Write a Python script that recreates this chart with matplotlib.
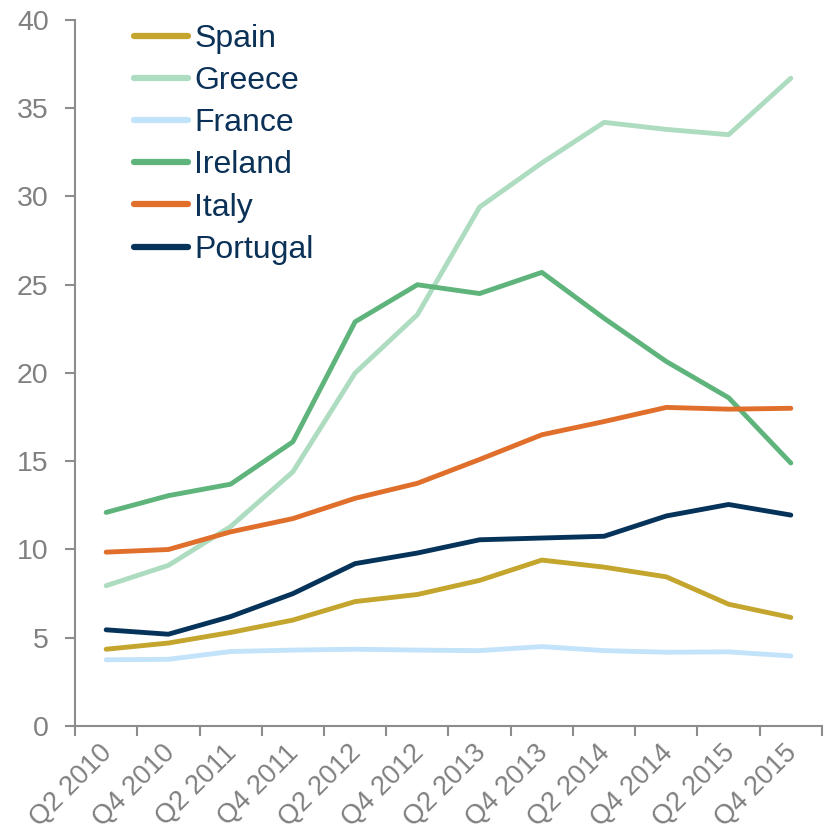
import numpy as np
import matplotlib.pyplot as plt
import matplotlib.transforms as mtrans

plt.rcParams['font.family'] = ['Liberation Sans', 'DejaVu Sans']

quarters = ["Q2 2010", "Q4 2010", "Q2 2011", "Q4 2011", "Q2 2012", "Q4 2012",
            "Q2 2013", "Q4 2013", "Q2 2014", "Q4 2014", "Q2 2015", "Q4 2015"]

spain    = [4.35, 4.7, 5.3, 6.0, 7.05, 7.45, 8.25, 9.4, 9.0, 8.45, 6.9, 6.15]
greece   = [7.95, 9.1, 11.3, 14.4, 20.0, 23.3, 29.4, 31.9, 34.2, 33.8, 33.5, 36.7]
france   = [3.75, 3.78, 4.22, 4.3, 4.35, 4.3, 4.27, 4.5, 4.27, 4.18, 4.2, 3.97]
ireland  = [12.1, 13.05, 13.7, 16.1, 22.9, 25.0, 24.5, 25.7, 23.1, 20.65, 18.6, 14.9]
italy    = [9.85, 10.0, 11.0, 11.75, 12.9, 13.75, 15.1, 16.5, 17.25, 18.05, 17.95, 18.0]
portugal = [5.45, 5.2, 6.2, 7.5, 9.2, 9.8, 10.55, 10.65, 10.75, 11.9, 12.55, 11.95]

series = [("Spain", spain, "#C4A52D"),
          ("Greece", greece, "#ADDCC0"),
          ("France", france, "#C2E3FA"),
          ("Ireland", ireland, "#5FB47C"),
          ("Italy", italy, "#E06F2C"),
          ("Portugal", portugal, "#06335A")]

fig = plt.figure(figsize=(8.29, 8.32), dpi=100)
ax = fig.add_axes([0.0905, 0.1274, 0.901, 0.8486])

x = np.arange(len(quarters))
for name, vals, col in series:
    ax.plot(x, vals, color=col, lw=3.5, label=name, solid_capstyle='round')

ax.set_xlim(-0.5, len(quarters) - 0.5)
ax.set_ylim(0, 40)
ax.set_yticks(range(0, 41, 5))
ax.set_xticks(np.arange(-0.5, len(quarters), 1))
ax.set_xticklabels([])
ax.set_xticks(x, minor=True)
ax.set_xticklabels(quarters, minor=True, rotation=45, ha='right',
                   rotation_mode='anchor', fontsize=19.5, color='#808080')
ax.tick_params(axis='x', which='minor', length=0, pad=10)
ax.tick_params(axis='x', which='major', length=7, width=1.5, color='#8c8c8c')
ax.tick_params(axis='y', length=7, width=1.5, color='#8c8c8c',
               labelsize=20.5, labelcolor='#808080', pad=12)

# nudge the rotated labels a little to the left
shift = mtrans.ScaledTranslation(-7 / 100, 0, fig.dpi_scale_trans)
for lbl in ax.get_xticklabels(minor=True):
    lbl.set_transform(lbl.get_transform() + shift)

for s in ['top', 'right']:
    ax.spines[s].set_visible(False)
for s in ['left', 'bottom']:
    ax.spines[s].set_color('#8c8c8c')
    ax.spines[s].set_linewidth(1.5)

leg = ax.legend(loc='upper left', bbox_to_anchor=(0.04, 1.035), frameon=False,
                fontsize=23, handlelength=1.7, handletextpad=0.2, labelspacing=0.38)
for t in leg.get_texts():
    t.set_color('#0B3157')
for h in leg.get_lines():
    h.set_linewidth(4.5)

plt.savefig("out.png")
